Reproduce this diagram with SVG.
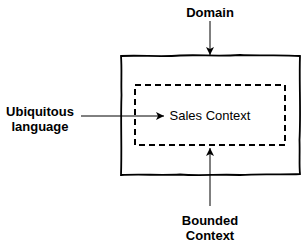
<svg xmlns="http://www.w3.org/2000/svg" width="302" height="246" viewBox="0 0 302 246">
<style>
.lbl{font-family:"Liberation Sans",Arial,sans-serif;font-size:13px;fill:#000}
.b{font-weight:bold}
.ln{fill:none;stroke:#000;stroke-width:1}
</style>
<defs>
<marker id="ah" markerWidth="10" markerHeight="10" refX="9" refY="5" orient="auto" markerUnits="userSpaceOnUse">
<path d="M1,1 L9,5 L1,9 L3,5 Z" fill="#000"/>
</marker>
</defs>
<rect width="302" height="246" fill="#fff"/>
<g id="domain">
<path d="M121,56 C140,55 160,57 180,55.5 C200,54.5 215,56.5 240,55 C260,56 280,54.5 300,56 C299,80 301,110 299.5,140 C300,155 299,165 300,174 C280,175 260,173.5 240,175 C220,174 200,176 180,174.5 C160,175.5 140,174 121,175 C122,150 120.5,120 121.5,95 C121,80 122,70 121,56 Z" fill="none" stroke="#000" stroke-width="1.8"/>
</g>
<g id="sales-context">
<rect x="135" y="85" width="150" height="60" fill="none" stroke="#000" stroke-width="2" stroke-dasharray="6 4"/>
<text class="lbl" x="210" y="120" text-anchor="middle">Sales Context</text>
</g>
<g id="label-domain">
<text class="lbl b" x="210" y="17" text-anchor="middle">Domain</text>
</g>
<g id="label-ubiquitous">
<text class="lbl b" x="40" y="116" text-anchor="middle">Ubiquitous</text>
<text class="lbl b" x="40" y="131" text-anchor="middle">language</text>
</g>
<g id="label-bounded">
<text class="lbl b" x="210" y="225" text-anchor="middle">Bounded</text>
<text class="lbl b" x="210" y="240" text-anchor="middle">Context</text>
</g>
<g id="connectors">
<line class="ln" x1="210" y1="21" x2="210" y2="55" marker-end="url(#ah)"/>
<line class="ln" x1="81" y1="116" x2="164" y2="116" marker-end="url(#ah)"/>
<line class="ln" x1="210" y1="206" x2="210" y2="148" marker-end="url(#ah)"/>
</g>
</svg>
